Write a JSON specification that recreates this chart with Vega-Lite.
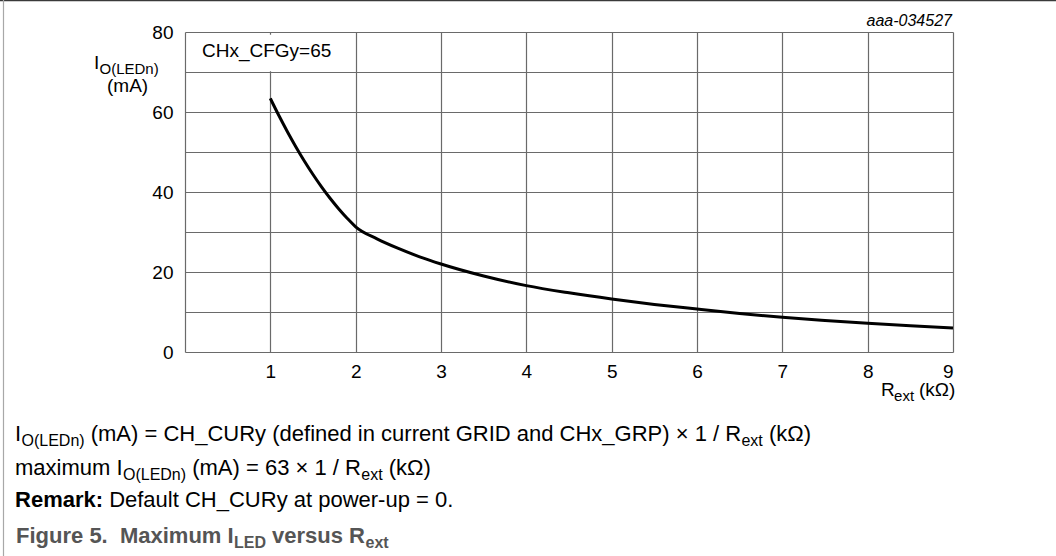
{
  "$schema": "https://vega.github.io/schema/vega-lite/v6.json",
  "autosize": "none",
  "width": 768,
  "height": 320,
  "padding": {"left": 185, "top": 32, "right": 103, "bottom": 204},
  "background": "white",
  "config": {
    "view": {"stroke": null},
    "font": "Liberation Sans",
    "text": {"font": "Liberation Sans", "color": "black"}
  },
  "encoding": {
    "x": {"field": "r", "type": "quantitative",
      "scale": {"domain": [0, 9], "nice": false, "zero": false},
      "axis": {"values": [0,1,2,3,4,5,6,7,8,9], "title": null, "grid": true, "gridColor": "#6a6a6a", "gridWidth": 1.2,
        "domain": false, "ticks": false, "labelExpr": "datum.value == 0 ? '' : datum.label",
        "labelFontSize": 19, "labelColor": "black", "labelPadding": 10, "labelFont": "Liberation Sans"}},
    "y": {"field": "i", "type": "quantitative",
      "scale": {"domain": [0, 80], "nice": false},
      "axis": {"values": [0,10,20,30,40,50,60,70,80], "title": null, "grid": true, "gridColor": "#6a6a6a", "gridWidth": 1.2,
        "domain": false, "ticks": false, "labelExpr": "datum.value % 20 == 0 ? datum.label : ''",
        "labelFontSize": 19, "labelColor": "black", "labelPadding": 12, "labelFont": "Liberation Sans"}}
  },
  "layer": [
    {
      "data": {"values": [{"r": 0.02, "r2": 1.75, "i": 70.2, "i2": 79.3}]},
      "mark": {"type": "rect", "color": "white"},
      "encoding": {"x2": {"field": "r2"}, "y2": {"field": "i2"}}
    },
    {
      "data": {"values": [
        {"r": 1, "i": 63.4}, {"r": 1.1, "i": 59.12}, {"r": 1.2, "i": 55.08}, {"r": 1.3, "i": 51.27},
        {"r": 1.4, "i": 47.7}, {"r": 1.5, "i": 44.38}, {"r": 1.6, "i": 41.28}, {"r": 1.7, "i": 38.43},
        {"r": 1.8, "i": 35.82}, {"r": 1.9, "i": 33.44}, {"r": 2, "i": 31.3},
        {"r": 2.25, "i": 28.3}, {"r": 2.5, "i": 25.9}, {"r": 2.75, "i": 23.8}, {"r": 3, "i": 22},
        {"r": 3.5, "i": 19.0}, {"r": 4, "i": 16.6}, {"r": 4.5, "i": 14.8}, {"r": 5, "i": 13.25},
        {"r": 5.5, "i": 11.9}, {"r": 6, "i": 10.75}, {"r": 6.5, "i": 9.65}, {"r": 7, "i": 8.67},
        {"r": 7.5, "i": 7.88}, {"r": 8, "i": 7.17}, {"r": 8.5, "i": 6.55}, {"r": 9, "i": 6.0}
      ]},
      "mark": {"type": "line", "color": "black", "strokeWidth": 3, "interpolate": "monotone"}
    },
    {
      "data": {"values": [{"r": -2.168, "r2": 10.207, "i": 87.875}]},
      "mark": {"type": "rule", "color": "#3a3a3a", "strokeWidth": 1.5},
      "encoding": {"x2": {"field": "r2"}}
    },
    {
      "data": {"values": [{"r": -2.127, "i": 88, "i2": -51}]},
      "mark": {"type": "rule", "color": "#a8a8a8", "strokeWidth": 1.2},
      "encoding": {"y2": {"field": "i2"}}
    },
    {
      "data": {"values": [
        {"t": "CHx_CFGy=65", "r": 0.199, "i": 73.75},
        {"t": "I", "r": -1.066, "i": 70.75},
        {"t": "(mA)", "r": -0.914, "i": 65},
        {"t": "R", "r": 8.156, "i": -11},
        {"t": "(kΩ)", "r": 8.602, "i": -11}
      ]},
      "mark": {"type": "text", "align": "left", "baseline": "alphabetic", "fontSize": 19},
      "encoding": {"text": {"field": "t"}}
    },
    {
      "data": {"values": [
        {"t": "O(LEDn)", "r": -1.002, "i": 69.5},
        {"t": "ext", "r": 8.309, "i": -12.25}
      ]},
      "mark": {"type": "text", "align": "left", "baseline": "alphabetic", "fontSize": 15},
      "encoding": {"text": {"field": "t"}}
    },
    {
      "data": {"values": [
        {"t": "O(LEDn)", "r": -1.916, "i": -23.5},
        {"t": "ext", "r": 6.521, "i": -23.5},
        {"t": "O(LEDn)", "r": -0.727, "i": -32},
        {"t": "ext", "r": 2.066, "i": -32}
      ]},
      "mark": {"type": "text", "align": "left", "baseline": "alphabetic", "fontSize": 16},
      "encoding": {"text": {"field": "t"}}
    },
    {
      "data": {"values": [
        {"t": "I", "r": -1.992, "i": -22.25},
        {"t": "(mA) = CH_CURy (defined in current GRID and CHx_GRP) × 1 / R", "r": -1.105, "i": -22.25},
        {"t": "(kΩ)", "r": 6.843, "i": -22.25},
        {"t": "maximum I", "r": -1.992, "i": -30.75},
        {"t": "(mA) = 63 × 1 / R", "r": 0.084, "i": -30.75},
        {"t": "(kΩ)", "r": 2.387, "i": -30.75},
        {"t": "Default CH_CURy at power-up = 0.", "r": -0.889, "i": -38.75}
      ]},
      "mark": {"type": "text", "align": "left", "baseline": "alphabetic", "fontSize": 22},
      "encoding": {"text": {"field": "t"}}
    },
    {
      "data": {"values": [{"t": "Remark:", "r": -1.992, "i": -38.75}]},
      "mark": {"type": "text", "align": "left", "baseline": "alphabetic", "fontSize": 22, "fontWeight": "bold"},
      "encoding": {"text": {"field": "t"}}
    },
    {
      "data": {"values": [
        {"t": "Figure 5. \u00a0Maximum I", "r": -1.98, "i": -47.75},
        {"t": "versus R", "r": 1.02, "i": -47.75}
      ]},
      "mark": {"type": "text", "align": "left", "baseline": "alphabetic", "fontSize": 22, "fontWeight": "bold", "color": "#555555"},
      "encoding": {"text": {"field": "t"}}
    },
    {
      "data": {"values": [
        {"t": "LED", "r": 0.574, "i": -49},
        {"t": "ext", "r": 2.115, "i": -49}
      ]},
      "mark": {"type": "text", "align": "left", "baseline": "alphabetic", "fontSize": 16, "fontWeight": "bold", "color": "#555555"},
      "encoding": {"text": {"field": "t"}}
    },
    {
      "data": {"values": [{"t": "aaa-034527", "r": 8.988, "i": 81.5}]},
      "mark": {"type": "text", "align": "right", "baseline": "alphabetic", "fontSize": 16, "fontStyle": "italic"},
      "encoding": {"text": {"field": "t"}}
    }
  ]
}
